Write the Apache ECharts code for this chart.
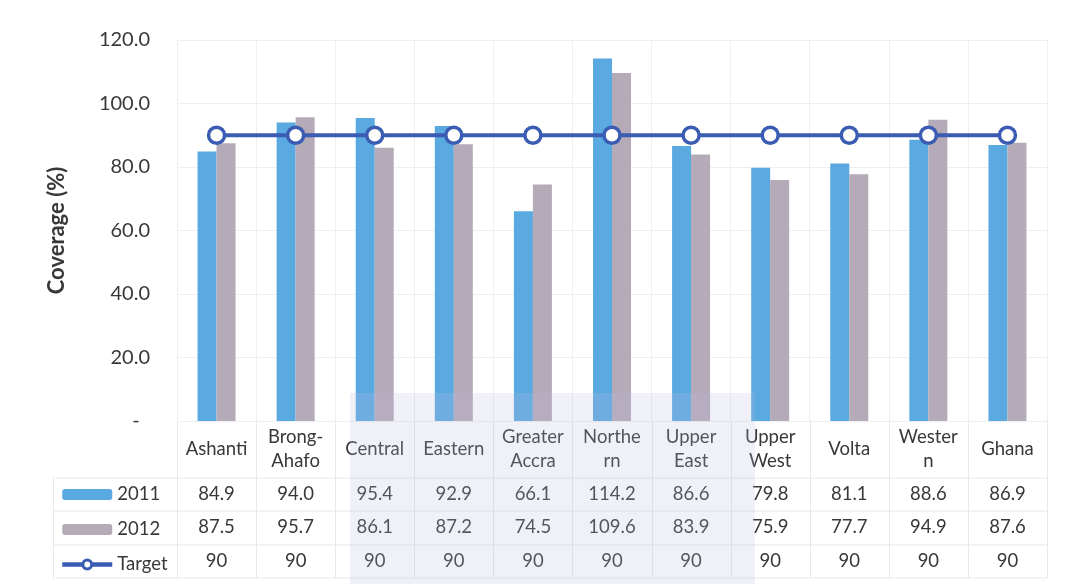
<!DOCTYPE html>
<html lang="en">
<head>
    <meta charset="UTF-8">
    <title>Coverage</title>
    <script src="https://cdn.jsdelivr.net/npm/echarts@6/dist/echarts.min.js"></script>
    <style>
        html, body { margin: 0; padding: 0; background: #fff; }
    </style>
</head>
<body>
    <div id="main" style="width: 1067px; height: 584px;"></div>
    <script>
        var regions = ['Ashanti', 'Brong-\nAhafo', 'Central', 'Eastern', 'Greater\nAccra', 'Northe\nrn',
                       'Upper\nEast', 'Upper\nWest', 'Volta', 'Wester\nn', 'Ghana'];
        var cov2011 = [84.9, 94.0, 95.4, 92.9, 66.1, 114.2, 86.6, 79.8, 81.1, 88.6, 86.9];
        var cov2012 = [87.5, 95.7, 86.1, 87.2, 74.5, 109.6, 83.9, 75.9, 77.7, 94.9, 87.6];
        var target = [90, 90, 90, 90, 90, 90, 90, 90, 90, 90, 90];

        var font = 'Lato, "Open Sans", sans-serif';
        var txt = '#383838';
        var lineCol = '#3a5cb3';
        var gLeft = 177, gRight = 20, gTop = 40, gBottom = 163;

        var myChart = echarts.init(document.getElementById('main'));

        function rowAxis(values, margin, fmt) {
            return {
                type: 'category',
                position: 'bottom',
                data: values.map(fmt),
                axisLine: {show: false},
                axisTick: {show: false},
                axisLabel: {
                    interval: 0, margin: margin, verticalAlign: 'middle',
                    color: txt, fontSize: 18.5, fontFamily: font
                }
            };
        }

        var W = 1067, H = 584;
        var colW = (W - gLeft - gRight) / regions.length;
        var base = H - gBottom;
        var rowLines = [478, 511, 545, 578];
        var lines = [];
        rowLines.forEach(function (y) {
            lines.push({type: 'line', shape: {x1: 53, y1: y, x2: W - gRight, y2: y},
                        style: {stroke: '#e8e8e8', lineWidth: 1}, silent: true});
        });
        for (var i = 0; i <= regions.length; i++) {
            var x = Math.round(gLeft + i * colW) + 0.5;
            lines.push({type: 'line', shape: {x1: x, y1: base, x2: x, y2: 578},
                        style: {stroke: '#e8e8e8', lineWidth: 1}, silent: true});
        }
        lines.push({type: 'line', shape: {x1: 53.5, y1: 478, x2: 53.5, y2: 578},
                    style: {stroke: '#e8e8e8', lineWidth: 1}, silent: true});
        // faint watermark block behind the middle of the table
        lines.push({type: 'rect', shape: {x: 350, y: 393, width: 405, height: 191},
                    style: {fill: 'rgba(185,185,225,0.22)'}, silent: true, z: 100});

        var option = {
            animation: false,
            textStyle: {fontFamily: font},
            grid: {left: gLeft, right: gRight, top: gTop, bottom: gBottom},
            legend: {
                orient: 'vertical',
                left: 60, top: 485,
                padding: 0,
                itemWidth: 50, itemHeight: 11,
                itemGap: 16,
                textStyle: {color: txt, fontSize: 18.5, fontFamily: font},
                data: ['2011', '2012',
                       {name: 'Target', lineStyle: {width: 4.5}, itemStyle: {borderWidth: 3}}]
            },
            xAxis: [
                {
                    type: 'category',
                    data: regions,
                    axisLine: {show: false},
                    axisTick: {show: false},
                    splitLine: {show: true, interval: 0, lineStyle: {color: '#efefef'}},
                    axisLabel: {
                        interval: 0, margin: 28, verticalAlign: 'middle', lineHeight: 24,
                        color: txt, fontSize: 18.5, fontFamily: font
                    }
                },
                rowAxis(cov2011, 73, function (v) { return v.toFixed(1); }),
                rowAxis(cov2012, 106, function (v) { return v.toFixed(1); }),
                rowAxis(target, 140, function (v) { return String(v); })
            ],
            yAxis: {
                type: 'value',
                min: 0, max: 120, interval: 20,
                name: 'Coverage (%)',
                nameLocation: 'middle',
                nameGap: 109,
                nameTextStyle: {color: txt, fontSize: 22, fontWeight: 'bold', fontFamily: font},
                axisLine: {show: false},
                axisTick: {show: false},
                splitLine: {lineStyle: {color: '#efefef'}},
                axisLabel: {
                    margin: 27, color: txt, fontSize: 20, fontFamily: font,
                    formatter: function (v) { return v === 0 ? '-  ' : v.toFixed(1); }
                }
            },
            series: [
                {
                    name: '2011', type: 'bar', data: cov2011,
                    barWidth: 19, barGap: '0%',
                    itemStyle: {color: '#5aa9e0'}
                },
                {
                    name: '2012', type: 'bar', data: cov2012,
                    barWidth: 19,
                    itemStyle: {color: '#b5aab8'}
                },
                {
                    name: 'Target', type: 'line', data: target,
                    symbol: 'circle', symbolSize: 16,
                    lineStyle: {color: lineCol, width: 4},
                    itemStyle: {color: '#fff', borderColor: lineCol, borderWidth: 3.5},
                    z: 5
                }
            ],
            graphic: lines
        };

        myChart.setOption(option);
    </script>
</body>
</html>
